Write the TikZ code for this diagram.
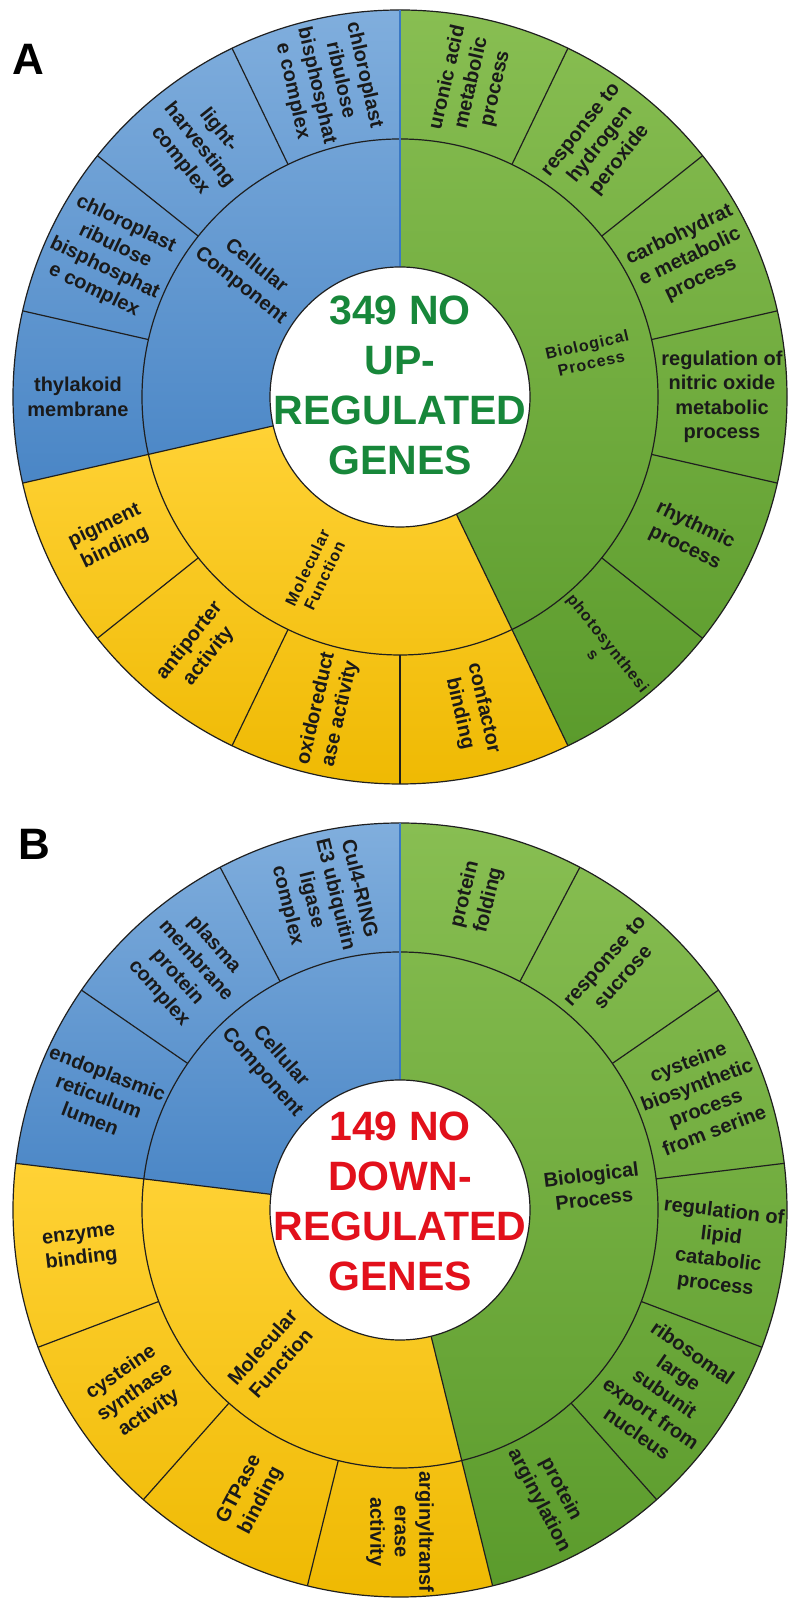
\documentclass[tikz,border=0pt]{standalone}
\usepackage{fontspec}
\setmainfont{Liberation Sans}
\usepackage{tikz}
\usetikzlibrary{positioning}

\definecolor{ccbluetop}{HTML}{80AEDD}
\definecolor{ccbluebot}{HTML}{4A86C6}
\definecolor{ccblueline}{HTML}{3A78C4}
\definecolor{mfyellowtop}{HTML}{FFD235}
\definecolor{mfyellowbot}{HTML}{EEB800}
\definecolor{bpgreentop}{HTML}{88BE52}
\definecolor{bpgreenbot}{HTML}{5B9B2C}
\definecolor{ringdark}{HTML}{1F1F1F}
\definecolor{labeltext}{HTML}{1A1A1A}
\definecolor{upgreen}{HTML}{17873A}
\definecolor{downred}{HTML}{E2101B}

% one piece of a ring: options, start angle, end angle, inner radius, outer radius
\newcommand{\ringpart}[5]{%
  \path[#1] (#2:#4) arc[start angle=#2, end angle=#3, radius=#4]
    -- (#3:#5) arc[start angle=#3, end angle=#2, radius=#5] -- cycle;}

\tikzset{
  seglabel/.style={font=\bfseries\fontsize{20}{24.5}\selectfont, text=labeltext, align=center, inner sep=0pt},
  smalllabel/.style={font=\bfseries\fontsize{16}{19}\selectfont\addfontfeatures{LetterSpace=6}, text=labeltext, align=center, inner sep=0pt},
  centertext/.style={font=\bfseries\fontsize{41}{50}\selectfont, align=center, inner sep=0pt},
  ringline/.style={draw=ringdark, line width=1.2pt},
  panel/.style={font=\bfseries\fontsize{44}{44}\selectfont, inner sep=0pt}
}

\begin{document}
\begin{tikzpicture}[x=1pt, y=1pt]
    \useasboundingbox (0,0) rectangle (800,1611);

    % Panel letters
    \node[panel] (panelA) at (28,1552) {A};
    \node[panel] (panelB) at (34,767) {B};

    % ---------- A: up-regulated genes ----------
    \begin{scope}[shift={(400,1214)}]
        % Category fills (14 equal pieces)
        \ringpart{top color=ccbluetop, bottom color=ccbluebot}{90}{192.857}{130}{387}
        \ringpart{top color=mfyellowtop, bottom color=mfyellowbot}{192.857}{295.714}{130}{387}
        \ringpart{top color=bpgreentop, bottom color=bpgreenbot}{295.714}{450}{130}{387}

        % Rings and dividers
        \draw[ringline] (0,0) circle[radius=387];
        \draw[ringline] (0,0) circle[radius=258];
        \foreach \k in {1,...,13} {
            \draw[ringline] ({90+\k*25.7143}:258) -- ({90+\k*25.7143}:387);
        }
        \foreach \a in {192.857,295.714} {
            \draw[ringline] (\a:130) -- (\a:258);
        }
        \draw[ringline, draw=ccblueline] (90:130) -- (90:387);
        \draw[ringline, fill=white] (0,0) circle[radius=130];

        % Centre text
        \node[centertext, text=upgreen] (coreA) at (0,12) {349 NO\\UP-\\REGULATED\\GENES};

        % Inner ring labels
        \node[seglabel, rotate=-38.57] (a-cc) at (141.43:194) {Cellular\\Component};
        \node[smalllabel, rotate=64.29] (a-mf) at (244.29:194) {Molecular\\Function};
        \node[smalllabel, rotate=12.86] (a-bp) at (12.86:194) {Biological\\Process};

        % Outer ring labels
        \foreach \k/\txt in {
            0/{chloroplast\\ribulose\\bisphosphat\\e complex},
            1/{light-\\harvesting\\complex},
            2/{chloroplast\\ribulose\\bisphosphat\\e complex},
            3/{thylakoid\\membrane},
            4/{pigment\\binding},
            5/{antiporter\\activity},
            6/{oxidoreduct\\ase activity},
            7/{confactor\\binding},
            9/{rhythmic\\process},
            10/{regulation of\\nitric oxide\\metabolic\\process},
            11/{carbohydrat\\e metabolic\\process},
            12/{response to\\hydrogen\\peroxide},
            13/{uronic acid\\metabolic\\process}} {
            \pgfmathsetmacro\mida{90+(\k+0.5)*25.7143}
            \pgfmathsetmacro\rota{ifthenelse(and(\mida>90,\mida<270),\mida-180,\mida)}
            \node[seglabel, rotate=\rota] (a-out-\k) at (\mida:322) {\txt};
        }
        \node[smalllabel, rotate=-51.43] (a-out-8) at (308.57:322) {photosynthesi\\s};
    \end{scope}

    % ---------- B: down-regulated genes ----------
    \begin{scope}[shift={(400,401)}]
        % Category fills (13 equal pieces)
        \ringpart{top color=ccbluetop, bottom color=ccbluebot}{90}{173.077}{130}{387}
        \ringpart{top color=mfyellowtop, bottom color=mfyellowbot}{173.077}{283.846}{130}{387}
        \ringpart{top color=bpgreentop, bottom color=bpgreenbot}{283.846}{450}{130}{387}

        % Rings and dividers
        \draw[ringline] (0,0) circle[radius=387];
        \draw[ringline] (0,0) circle[radius=258];
        \foreach \k in {1,...,12} {
            \draw[ringline] ({90+\k*27.6923}:258) -- ({90+\k*27.6923}:387);
        }
        \foreach \a in {173.077,283.846} {
            \draw[ringline] (\a:130) -- (\a:258);
        }
        \draw[ringline, draw=ccblueline] (90:130) -- (90:387);
        \draw[ringline, fill=white] (0,0) circle[radius=130];

        % Centre text
        \node[centertext, text=downred] (coreB) at (0,9) {149 NO\\DOWN-\\REGULATED\\GENES};

        % Inner ring labels
        \node[seglabel, rotate=-48.46] (b-cc) at (131.54:194) {Cellular\\Component};
        \node[seglabel, rotate=48.46] (b-mf) at (228.46:194) {Molecular\\Function};
        \node[seglabel, rotate=6.92] (b-bp) at (6.92:194) {Biological\\Process};

        % Outer ring labels
        \foreach \k/\txt in {
            0/{Cul4-RING\\E3 ubiquitin\\ligase\\complex},
            1/{plasma\\membrane\\protein\\complex},
            2/{endoplasmic\\reticulum\\lumen},
            3/{enzyme\\binding},
            4/{cysteine\\synthase\\activity},
            5/{GTPase\\binding},
            6/{arginyltransf\\erase\\activity},
            7/{protein\\arginylation},
            8/{ribosomal\\large\\subunit\\export from\\nucleus},
            9/{regulation of\\lipid\\catabolic\\process},
            10/{cysteine\\biosynthetic\\process\\from serine},
            11/{response to\\sucrose},
            12/{protein\\folding}} {
            \pgfmathsetmacro\midb{90+(\k+0.5)*27.6923}
            \pgfmathsetmacro\rotb{ifthenelse(and(\midb>90,\midb<269.9),\midb-180,\midb)}
            \node[seglabel, rotate=\rotb] (b-out-\k) at (\midb:322) {\txt};
        }
    \end{scope}
\end{tikzpicture}
\end{document}
